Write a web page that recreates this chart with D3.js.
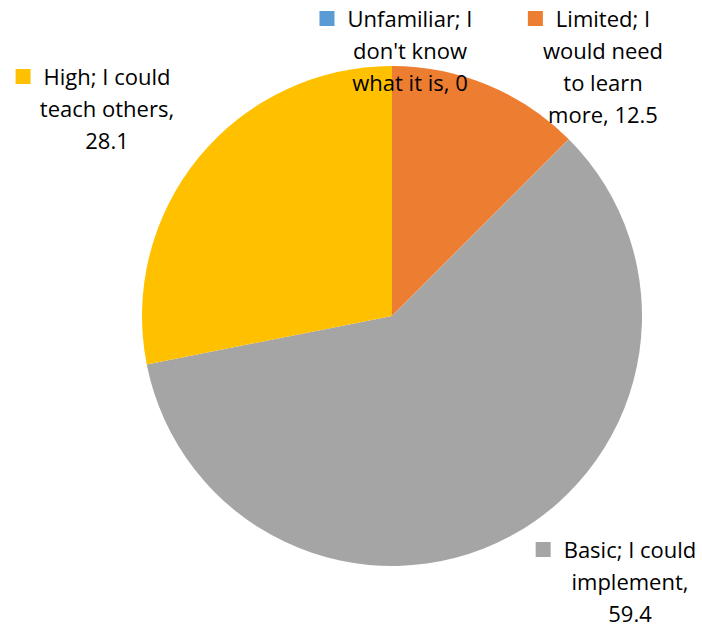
<!DOCTYPE html>
<html>
<head>
<meta charset="utf-8">
<script src="https://cdn.jsdelivr.net/npm/d3@7"></script>
<style>
  html, body { margin: 0; padding: 0; background: #fff; }
  svg { display: block; }
</style>
</head>
<body>
<script>
// data
var categories = ["Unfamiliar; I don't know what it is", "Limited; I would need to learn more", "Basic; I could implement", "High; I could teach others"];
var values = [0, 12.5, 59.4, 28.1];
var colours = ["#5B9BD5", "#ED7D31", "#A5A5A5", "#FFC000"];
// label lines as they are wrapped in the original
var labelLines = [
  ["Unfamiliar; I", "don't know", "what it is, 0"],
  ["Limited; I", "would need", "to learn", "more, 12.5"],
  ["Basic; I could", "implement,", "59.4"],
  ["High; I could", "teach others,", "28.1"]
];

var w = 702, h = 628;
var cx = 392, cy = 316, r = 250;

var svg = d3.select("body").append("svg")
  .attr("width", w)
  .attr("height", h)
  .attr("font-family", "'Open Sans', Lato, sans-serif")
  .attr("font-size", "22px");

var pie = d3.pie().sort(null).value(function(d) { return d; });
var arc = d3.arc().innerRadius(0).outerRadius(r);
var color = d3.scaleOrdinal().domain(categories).range(colours);

var arcs = pie(values);

var g = svg.append("g").attr("transform", "translate(" + cx + "," + cy + ")");

g.selectAll("path")
  .data(arcs)
  .enter().append("path")
  .attr("d", arc)
  .attr("fill", function(d, i) { return color(categories[i]); });

// label boxes (text centre x, first baseline y) - placed like the Excel data labels
var labelPos = [
  {x: 410, y: 27},
  {x: 603, y: 27},
  {x: 630, y: 558},
  {x: 107, y: 85}
];
var lineH = 32;

var lab = svg.selectAll(".lab")
  .data(categories)
  .enter().append("g")
  .attr("class", "lab");

lab.each(function(c, i) {
  var sel = d3.select(this);
  var p = labelPos[i];
  var t = sel.append("text")
    .attr("text-anchor", "middle")
    .attr("fill", "#000");
  labelLines[i].forEach(function(line, k) {
    t.append("tspan")
      .attr("x", p.x)
      .attr("y", p.y + k * lineH)
      .text(line);
  });
  // legend key sits left of the first line
  var firstW = t.select("tspan").node().getComputedTextLength();
  sel.append("rect")
    .attr("x", p.x - firstW / 2 - 28)
    .attr("y", p.y - 16)
    .attr("width", 15)
    .attr("height", 15)
    .attr("fill", color(c));
});
</script>
</body>
</html>
